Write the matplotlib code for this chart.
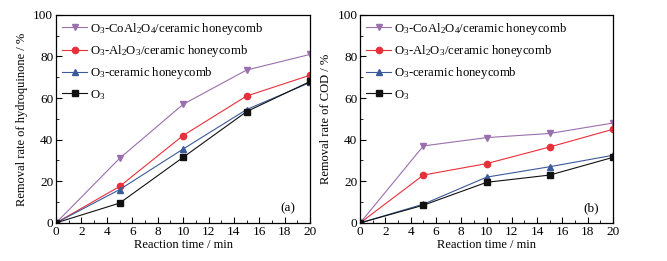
import matplotlib
matplotlib.use('Agg')
import matplotlib.pyplot as plt
from matplotlib.ticker import MultipleLocator

plt.rcParams['font.family'] = ['Liberation Serif', 'DejaVu Serif']
plt.rcParams['mathtext.fontset'] = 'custom'
plt.rcParams['mathtext.rm'] = 'Liberation Serif'
plt.rcParams['mathtext.it'] = 'Liberation Serif:italic'

# data
time_min = [0, 5, 10, 15, 20]
labels = ['O$_3$-CoAl$_2$O$_4$/ceramic honeycomb',
          'O$_3$-Al$_2$O$_3$/ceramic honeycomb',
          'O$_3$-ceramic honeycomb',
          'O$_3$']
hq_coal = [0, 31, 57, 73.5, 81]
hq_al = [0, 17.5, 42, 61, 71]
hq_cer = [0, 16, 35.5, 54.5, 67.5]
hq_o3 = [0, 9.5, 31.5, 53.5, 68]
cod_coal = [0, 37, 41, 43, 48]
cod_al = [0, 23, 28.5, 36.5, 45]
cod_cer = [0, 9, 22, 27, 32.5]
cod_o3 = [0, 8.5, 19.5, 23, 31.5]

colors = ['#9b6fae', '#e8303a', '#3b5a9a', '#111111']
markers = ['v', 'o', '^', 's']

fig = plt.figure(figsize=(6.67, 2.61), dpi=100)
ax1 = fig.add_axes([0.084, 0.146, 0.381, 0.797])
ax2 = fig.add_axes([0.540, 0.146, 0.379, 0.797])


def draw_panel(ax, series, ylabel, tag):
    for s, c, m, lab in zip(series, colors, markers, labels):
        ax.plot(time_min, s, color=c, marker=m, markersize=4.5, lw=0.8, label=lab)
    ax.set_xlim(0, 20)
    ax.set_ylim(0, 100)
    ax.xaxis.set_major_locator(MultipleLocator(2))
    ax.xaxis.set_minor_locator(MultipleLocator(1))
    ax.yaxis.set_major_locator(MultipleLocator(20))
    ax.yaxis.set_minor_locator(MultipleLocator(10))
    ax.tick_params(which='both', direction='in', labelsize=9.5, pad=2)
    ax.tick_params(which='major', length=4)
    ax.tick_params(which='minor', length=2)
    for sp in ax.spines.values():
        sp.set_linewidth(0.9)
    ax.set_xlabel('Reaction time / min', fontsize=9, labelpad=1)
    ax.set_ylabel(ylabel, fontsize=9, labelpad=4)
    ax.text(0.913, 0.07, tag, transform=ax.transAxes, fontsize=9.5, ha='center', va='center')
    ax.legend(loc='upper left', frameon=False, fontsize=9.2, handlelength=2.0,
              labelspacing=0.5, borderaxespad=0.15, borderpad=0.3, handletextpad=0.2)


draw_panel(ax1, [hq_coal, hq_al, hq_cer, hq_o3], 'Removal rate of hydroquinone / %', '(a)')
draw_panel(ax2, [cod_coal, cod_al, cod_cer, cod_o3], 'Removal rate of COD / %', '(b)')

fig.savefig('out.png', dpi=100)
